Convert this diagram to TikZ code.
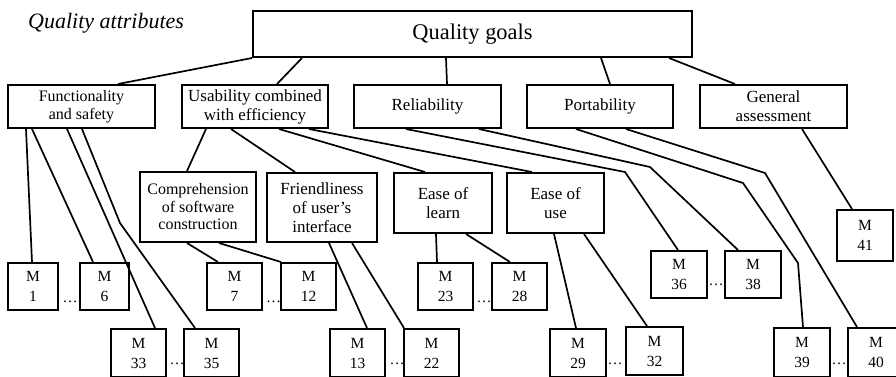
\documentclass[tikz,border=0pt]{standalone}
\usepackage{fontspec}
\setmainfont{Liberation Serif}

\tikzset{
  goalbox/.style={draw, line width=2pt, align=center, inner sep=0pt, font=\fontsize{22.4}{26}\selectfont},
  attrbox/.style={draw, line width=2pt, align=center, inner sep=0pt, font=\fontsize{17}{19}\selectfont},
  mbox/.style={draw, line width=2pt, align=center, inner sep=0pt, minimum width=55pt, font=\fontsize{15.5}{20}\selectfont},
  link/.style={line width=1.7pt},
  gap/.style={font=\fontsize{15}{18}\selectfont, inner sep=0pt, anchor=base}
}

\begin{document}
\begin{tikzpicture}[x=1pt, y=-1pt]
  \useasboundingbox (0,0) rectangle (896,376);

  % Title
  \node[font=\itshape\fontsize{22}{24}\selectfont, anchor=base west, inner sep=0pt] (title) at (28,28) {Quality attributes};

  % Root
  \node[goalbox, minimum width=439pt, minimum height=46pt] (goals) at (472.5,34) {Quality goals};

  % Quality attributes (first level)
  \node[attrbox, minimum width=147pt, minimum height=43pt, font=\fontsize{16}{18}\selectfont] (func) at (81.5,106.5) {Functionality\\and safety};
  \node[attrbox, minimum width=146pt, minimum height=43pt] (usab) at (255,106.5) {Usability combined\\with efficiency};
  \node[attrbox, minimum width=147pt, minimum height=43pt] (rel) at (427.5,106.5) {Reliability};
  \node[attrbox, minimum width=146pt, minimum height=43pt] (port) at (600,106.5) {Portability};
  \node[attrbox, minimum width=147pt, minimum height=43pt] (gen) at (773.5,106.5) {General\\assessment};

  % Sub-attributes of usability
  \node[attrbox, minimum width=116pt, minimum height=70pt, font=\fontsize{16}{17.5}\selectfont] (comp) at (198,207) {Comprehension\\of software\\construction};
  \node[attrbox, minimum width=110pt, minimum height=69pt] (friend) at (322,207.5) {Friendliness\\of user's\\interface};
  \node[attrbox, minimum width=98pt, minimum height=60pt] (learn) at (443,203) {Ease of\\learn};
  \node[attrbox, minimum width=97pt, minimum height=60pt] (use) at (555.5,203) {Ease of\\use};

  % Metrics, upper row
  \node[mbox, minimum width=50pt, minimum height=47pt] (m1) at (33,286.5) {M\\1};
  \node[mbox, minimum width=49pt, minimum height=47pt] (m6) at (104.5,286.5) {M\\6};
  \node[mbox, minimum height=47pt] (m7) at (234.5,286.5) {M\\7};
  \node[mbox, minimum height=47pt] (m12) at (308.5,286.5) {M\\12};
  \node[mbox, minimum height=47pt] (m23) at (445.5,286.5) {M\\23};
  \node[mbox, minimum height=47pt] (m28) at (519.5,286.5) {M\\28};
  \node[mbox, minimum width=56pt, minimum height=47pt] (m36) at (679,274.5) {M\\36};
  \node[mbox, minimum width=56pt, minimum height=47pt] (m38) at (753,274.5) {M\\38};
  \node[mbox, minimum width=56pt, minimum height=51pt] (m41) at (865,235.5) {M\\41};

  % Metrics, lower row
  \node[mbox, minimum height=48pt] (m33) at (138.5,353) {M\\33};
  \node[mbox, minimum height=48pt] (m35) at (211.5,353) {M\\35};
  \node[mbox, minimum height=48pt] (m13) at (357.5,353) {M\\13};
  \node[mbox, minimum height=48pt] (m22) at (431.5,353) {M\\22};
  \node[mbox, minimum width=56pt, minimum height=48pt] (m29) at (578,353) {M\\29};
  \node[mbox, minimum width=57pt, minimum height=48pt] (m32) at (654.5,351) {M\\32};
  \node[mbox, minimum width=56pt, minimum height=49pt] (m39) at (802,352.5) {M\\39};
  \node[mbox, minimum width=56pt, minimum height=49pt] (m40) at (876,352.5) {M\\40};

  % Dots between metric boxes
  \node[gap] (dots1) at (70,302) {\dots};
  \node[gap] (dots2) at (273.5,302) {\dots};
  \node[gap] (dots3) at (484,302) {\dots};
  \node[gap] (dots4) at (716,285) {\dots};
  \node[gap] (dots5) at (177,364) {\dots};
  \node[gap] (dots6) at (397,364) {\dots};
  \node[gap] (dots7) at (615,364) {\dots};
  \node[gap] (dots8) at (839,364) {\dots};

  % Bend points
  \coordinate (b35) at (120,223);
  \coordinate (b36) at (625,172);
  \coordinate (b38) at (650,167);
  \coordinate (b39a) at (743,183);
  \coordinate (b39b) at (798,263);
  \coordinate (b40) at (765,173);

  % Root to attributes
  \draw[link] (goals.south west) -- ([xshift=36.5pt]func.north);
  \draw[link] ([xshift=50pt]goals.south west) -- ([xshift=22pt]usab.north);
  \draw[link] ([xshift=194pt]goals.south west) -- ([xshift=19.5pt]rel.north);
  \draw[link] ([xshift=349pt]goals.south west) -- ([xshift=10pt]port.north);
  \draw[link] ([xshift=-24pt]goals.south east) -- ([xshift=-38.5pt]gen.north);

  % Functionality and safety
  \draw[link] ([xshift=19pt]func.south west) -- ([xshift=-1pt]m1.north);
  \draw[link] ([xshift=25pt]func.south west) -- ([xshift=-11.5pt]m6.north);
  \draw[link] ([xshift=60pt]func.south west) -- ([xshift=16.5pt]m33.north);
  \draw[link] ([xshift=75pt]func.south west) -- (b35) -- ([xshift=-16.5pt]m35.north);

  % Usability
  \draw[link] ([xshift=25pt]usab.south west) -- ([xshift=-11pt]comp.north);
  \draw[link] ([xshift=50pt]usab.south west) -- ([xshift=-27pt]friend.north);
  \draw[link] ([xshift=98pt]usab.south west) -- ([xshift=-18pt]learn.north);
  \draw[link] ([xshift=128pt]usab.south west) -- ([xshift=-23.5pt]use.north);

  \draw[link] ([xshift=48pt]comp.south west) -- ([xshift=-16.5pt]m7.north);
  \draw[link] ([xshift=80pt]comp.south west) -- ([xshift=1pt]m12.north west);
  \draw[link] ([xshift=63pt]friend.south west) -- ([xshift=9.5pt]m13.north);
  \draw[link] ([xshift=86pt]friend.south west) -- ([xshift=1pt]m22.north west);
  \draw[link] ([xshift=43pt]learn.south west) -- ([xshift=-8.5pt]m23.north);
  \draw[link] ([xshift=73pt]learn.south west) -- ([xshift=-9.5pt]m28.north);
  \draw[link] ([xshift=48pt]use.south west) -- ([xshift=-2pt]m29.north);
  \draw[link] ([xshift=78pt]use.south west) -- ([xshift=-7.5pt]m32.north);

  % Reliability
  \draw[link] ([xshift=53pt]rel.south west) -- (b36) -- ([xshift=-1pt]m36.north);
  \draw[link] ([xshift=126pt]rel.south west) -- (b38) -- ([xshift=-15pt]m38.north);

  % Portability
  \draw[link] ([xshift=50pt]port.south west) -- (b39a) -- (b39b) -- ([xshift=1pt]m39.north);
  \draw[link] ([xshift=100pt]port.south west) -- (b40) -- ([xshift=-19pt]m40.north);

  % General assessment
  \draw[link] ([xshift=103pt]gen.south west) -- ([xshift=-13pt]m41.north);
\end{tikzpicture}
\end{document}
